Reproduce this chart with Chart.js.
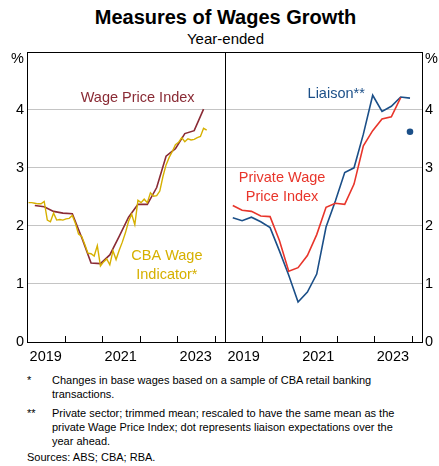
<!DOCTYPE html>
<html><head><meta charset="utf-8">
<script src="https://cdn.jsdelivr.net/npm/chart.js@4.4.0/dist/chart.umd.min.js"></script>
<style>
body{margin:0;background:#fff;font-family:"Liberation Sans",Arial,sans-serif;color:#000;}
#wrap{position:relative;width:439px;height:466px;overflow:hidden;background:#fff;}
#title{position:absolute;top:5px;left:6px;width:439px;text-align:center;font-weight:bold;font-size:20px;line-height:24px;}
#sub{position:absolute;top:30px;left:6px;width:439px;text-align:center;font-size:15px;line-height:18px;}
canvas{position:absolute;}
.fn{position:absolute;font-size:11px;line-height:14px;}
</style></head>
<body><div id="wrap">
<div id="title">Measures of Wages Growth</div>
<div id="sub">Year-ended</div>
<canvas id="left" width="232" height="330" style="left:0;top:40px"></canvas>
<canvas id="right" width="214" height="330" style="left:225px;top:40px"></canvas>
<div class="fn" style="left:27px;top:373px">*</div>
<div class="fn" style="left:52px;top:373px">Changes in base wages based on a sample of CBA retail banking<br>transactions.</div>
<div class="fn" style="left:27px;top:406px">**</div>
<div class="fn" style="left:52px;top:406px">Private sector; trimmed mean; rescaled to have the same mean as the<br>private Wage Price Index; dot represents liaison expectations over the<br>year ahead.</div>
<div class="fn" style="left:27px;top:450px">Sources: ABS; CBA; RBA.</div>
</div>
<script>
// ---- data ----
const quarterDates = ['2019-03','2019-06','2019-09','2019-12','2020-03','2020-06','2020-09','2020-12','2021-03','2021-06','2021-09','2021-12','2022-03','2022-06','2022-09','2022-12','2023-03','2023-06','2023-09','2023-12'];
const wpiValues = [2.35,2.33,2.25,2.22,2.21,1.80,1.36,1.35,1.50,1.82,2.15,2.37,2.37,2.66,3.20,3.33,3.59,3.64,4.01];
const cbaStart = '2019-01';
const cbaValues = [2.40,2.40,2.39,2.38,2.38,2.42,2.10,2.07,2.22,2.10,2.11,2.10,
  2.12,2.13,2.18,2.04,1.86,1.82,1.68,1.53,1.52,1.48,1.66,1.31,
  1.38,1.43,1.33,1.57,1.42,1.58,1.72,1.88,2.08,2.20,2.02,2.44,
  2.40,2.46,2.40,2.57,2.51,2.52,2.60,2.85,3.05,3.18,3.28,3.40,
  3.44,3.52,3.45,3.50,3.48,3.49,3.52,3.54,3.68,3.65];
const privateWpiValues = [2.35,2.27,2.25,2.17,2.16,1.75,1.22,1.28,1.49,1.85,2.32,2.39,2.37,2.72,3.38,3.64,3.84,3.88,4.21];
const liaisonValues = [2.14,2.09,2.15,2.07,1.97,1.57,1.15,0.69,0.86,1.17,1.98,2.43,2.92,3.00,3.58,4.25,3.97,4.06,4.22,4.20];
const liaisonExpDate = '2023-12';
const liaisonExpValue = 3.62;
const yearLabels = ['2019','2021','2023'];
const yTicks = [0,1,2,3,4,5];

const X_MIN = 2019, X_MAX = 2024.28;
const C_WPI = '#8a2b35', C_CBA = '#d6b000', C_PWPI = '#e8352b', C_LIA = '#1b4f88';

function toX(s){const p=s.split('-').map(Number);return p[0]+(p[1]-0.5)/12;}
function monthSeq(start,n){const p=start.split('-').map(Number);const out=[];for(let i=0;i<n;i++){const m=p[1]-1+i;out.push((p[0]+Math.floor(m/12))+'-'+String(m%12+1).padStart(2,'0'));}return out;}
function pts(dates,vals){return vals.map((v,i)=>({x:toX(dates[i]),y:v}));}
const cbaDates = monthSeq(cbaStart,cbaValues.length);

const FONT = {family:'"Liberation Sans", Arial, sans-serif', size:14.5};

const framePlugin = {
  id:'frame',
  afterDatasetsDraw(chart,args,opts){
    const {ctx,chartArea:a,scales} = chart;
    ctx.save();
    ctx.strokeStyle='#000';ctx.lineWidth=1;
    ctx.strokeRect(Math.round(a.left)+0.5,Math.round(a.top)+0.5,Math.round(a.right-a.left),Math.round(a.bottom-a.top));
    // inward year ticks
    ctx.beginPath();
    for(let yr=2020; yr<=2024; yr++){
      const px=Math.round(scales.x.getPixelForValue(yr))+0.5;
      ctx.moveTo(px,a.bottom);ctx.lineTo(px,a.bottom-6);
    }
    ctx.stroke();
    // % unit label
    ctx.fillStyle='#000';ctx.font='14.5px "Liberation Sans", Arial, sans-serif';
    ctx.textBaseline='middle';
    const y5 = scales.y.getPixelForValue(5)+7;
    if(opts.side==='left'){ctx.textAlign='right';ctx.fillText('%',a.left-3,y5);}
    else {ctx.textAlign='left';ctx.fillText('%',a.right+3,y5);}
    // series labels
    ctx.font='14.5px "Liberation Sans", Arial, sans-serif';ctx.textAlign='center';
    (opts.labels||[]).forEach(l=>{
      ctx.fillStyle=l.color;
      l.lines.forEach((t,i)=>ctx.fillText(t,scales.x.getPixelForValue(l.x),scales.y.getPixelForValue(l.y)+i*19));
    });
    ctx.restore();
  }
};

function makeScales(side){
  return {
    x:{type:'linear',min:X_MIN,max:X_MAX,
      grid:{display:false,drawTicks:false},border:{display:false},
      afterBuildTicks(s){s.ticks=yearLabels.map(y=>({value:Number(y)+0.5}));},
      afterFit(s){s.height=28;s.paddingLeft=0;s.paddingRight=0;},
      ticks:{autoSkip:false,maxRotation:0,padding:6,color:'#000',font:FONT,
        callback:(v)=>String(Math.floor(v))}},
    y:{type:'linear',position:side,min:0,max:5,
      afterBuildTicks(s){s.ticks=yTicks.map(v=>({value:v}));},
      afterFit(s){s.width= side==='left'?27:17;},
      border:{display:false},
      grid:{drawTicks:false,lineWidth:1,color:(c)=>(c.tick && c.tick.value>0 && c.tick.value<5)?'#c4c4c4':'rgba(0,0,0,0)'},
      ticks:{padding:3,color:'#000',font:FONT,callback:(v)=>v===5?'':String(v)}}
  };
}

const common = {responsive:false,animation:false,events:[],
  plugins:{legend:{display:false},tooltip:{enabled:false}},
  elements:{point:{radius:0},line:{tension:0,borderWidth:1.6}}};

new Chart(document.getElementById('left'),{
  type:'line',
  data:{datasets:[
    {label:'CBA Wage Indicator*',data:pts(cbaDates,cbaValues),borderColor:C_CBA,borderWidth:1.4},
    {label:'Wage Price Index',data:pts(quarterDates,wpiValues),borderColor:C_WPI,borderWidth:1.6}
  ]},
  options:Object.assign({},common,{
    layout:{autoPadding:false,padding:{top:10,right:7,left:0,bottom:0}},
    scales:makeScales('left'),
    plugins:Object.assign({},common.plugins,{frame:{side:'left',labels:[
      {lines:['Wage Price Index'],x:2021.95,y:4.2,color:C_WPI},
      {lines:['CBA Wage','Indicator*'],x:2022.73,y:1.48,color:C_CBA}
    ]}})
  }),
  plugins:[framePlugin]
});

new Chart(document.getElementById('right'),{
  type:'line',
  data:{datasets:[
    {label:'Private Wage Price Index',data:pts(quarterDates,privateWpiValues),borderColor:C_PWPI,borderWidth:1.6},
    {label:'Liaison**',data:pts(quarterDates,liaisonValues),borderColor:C_LIA,borderWidth:1.6},
    {label:'Liaison expectations',data:[{x:toX(liaisonExpDate),y:liaisonExpValue}],showLine:false,
      pointRadius:3.3,backgroundColor:C_LIA,borderColor:C_LIA,pointBorderWidth:0}
  ]},
  options:Object.assign({},common,{
    layout:{autoPadding:false,padding:{top:10,right:0,left:0,bottom:0}},
    scales:makeScales('right'),
    plugins:Object.assign({},common.plugins,{frame:{side:'right',labels:[
      {lines:['Liaison**'],x:2021.98,y:4.27,color:C_LIA},
      {lines:['Private Wage','Price Index'],x:2020.53,y:2.83,color:C_PWPI}
    ]}})
  }),
  plugins:[framePlugin]
});
</script>
</body></html>
